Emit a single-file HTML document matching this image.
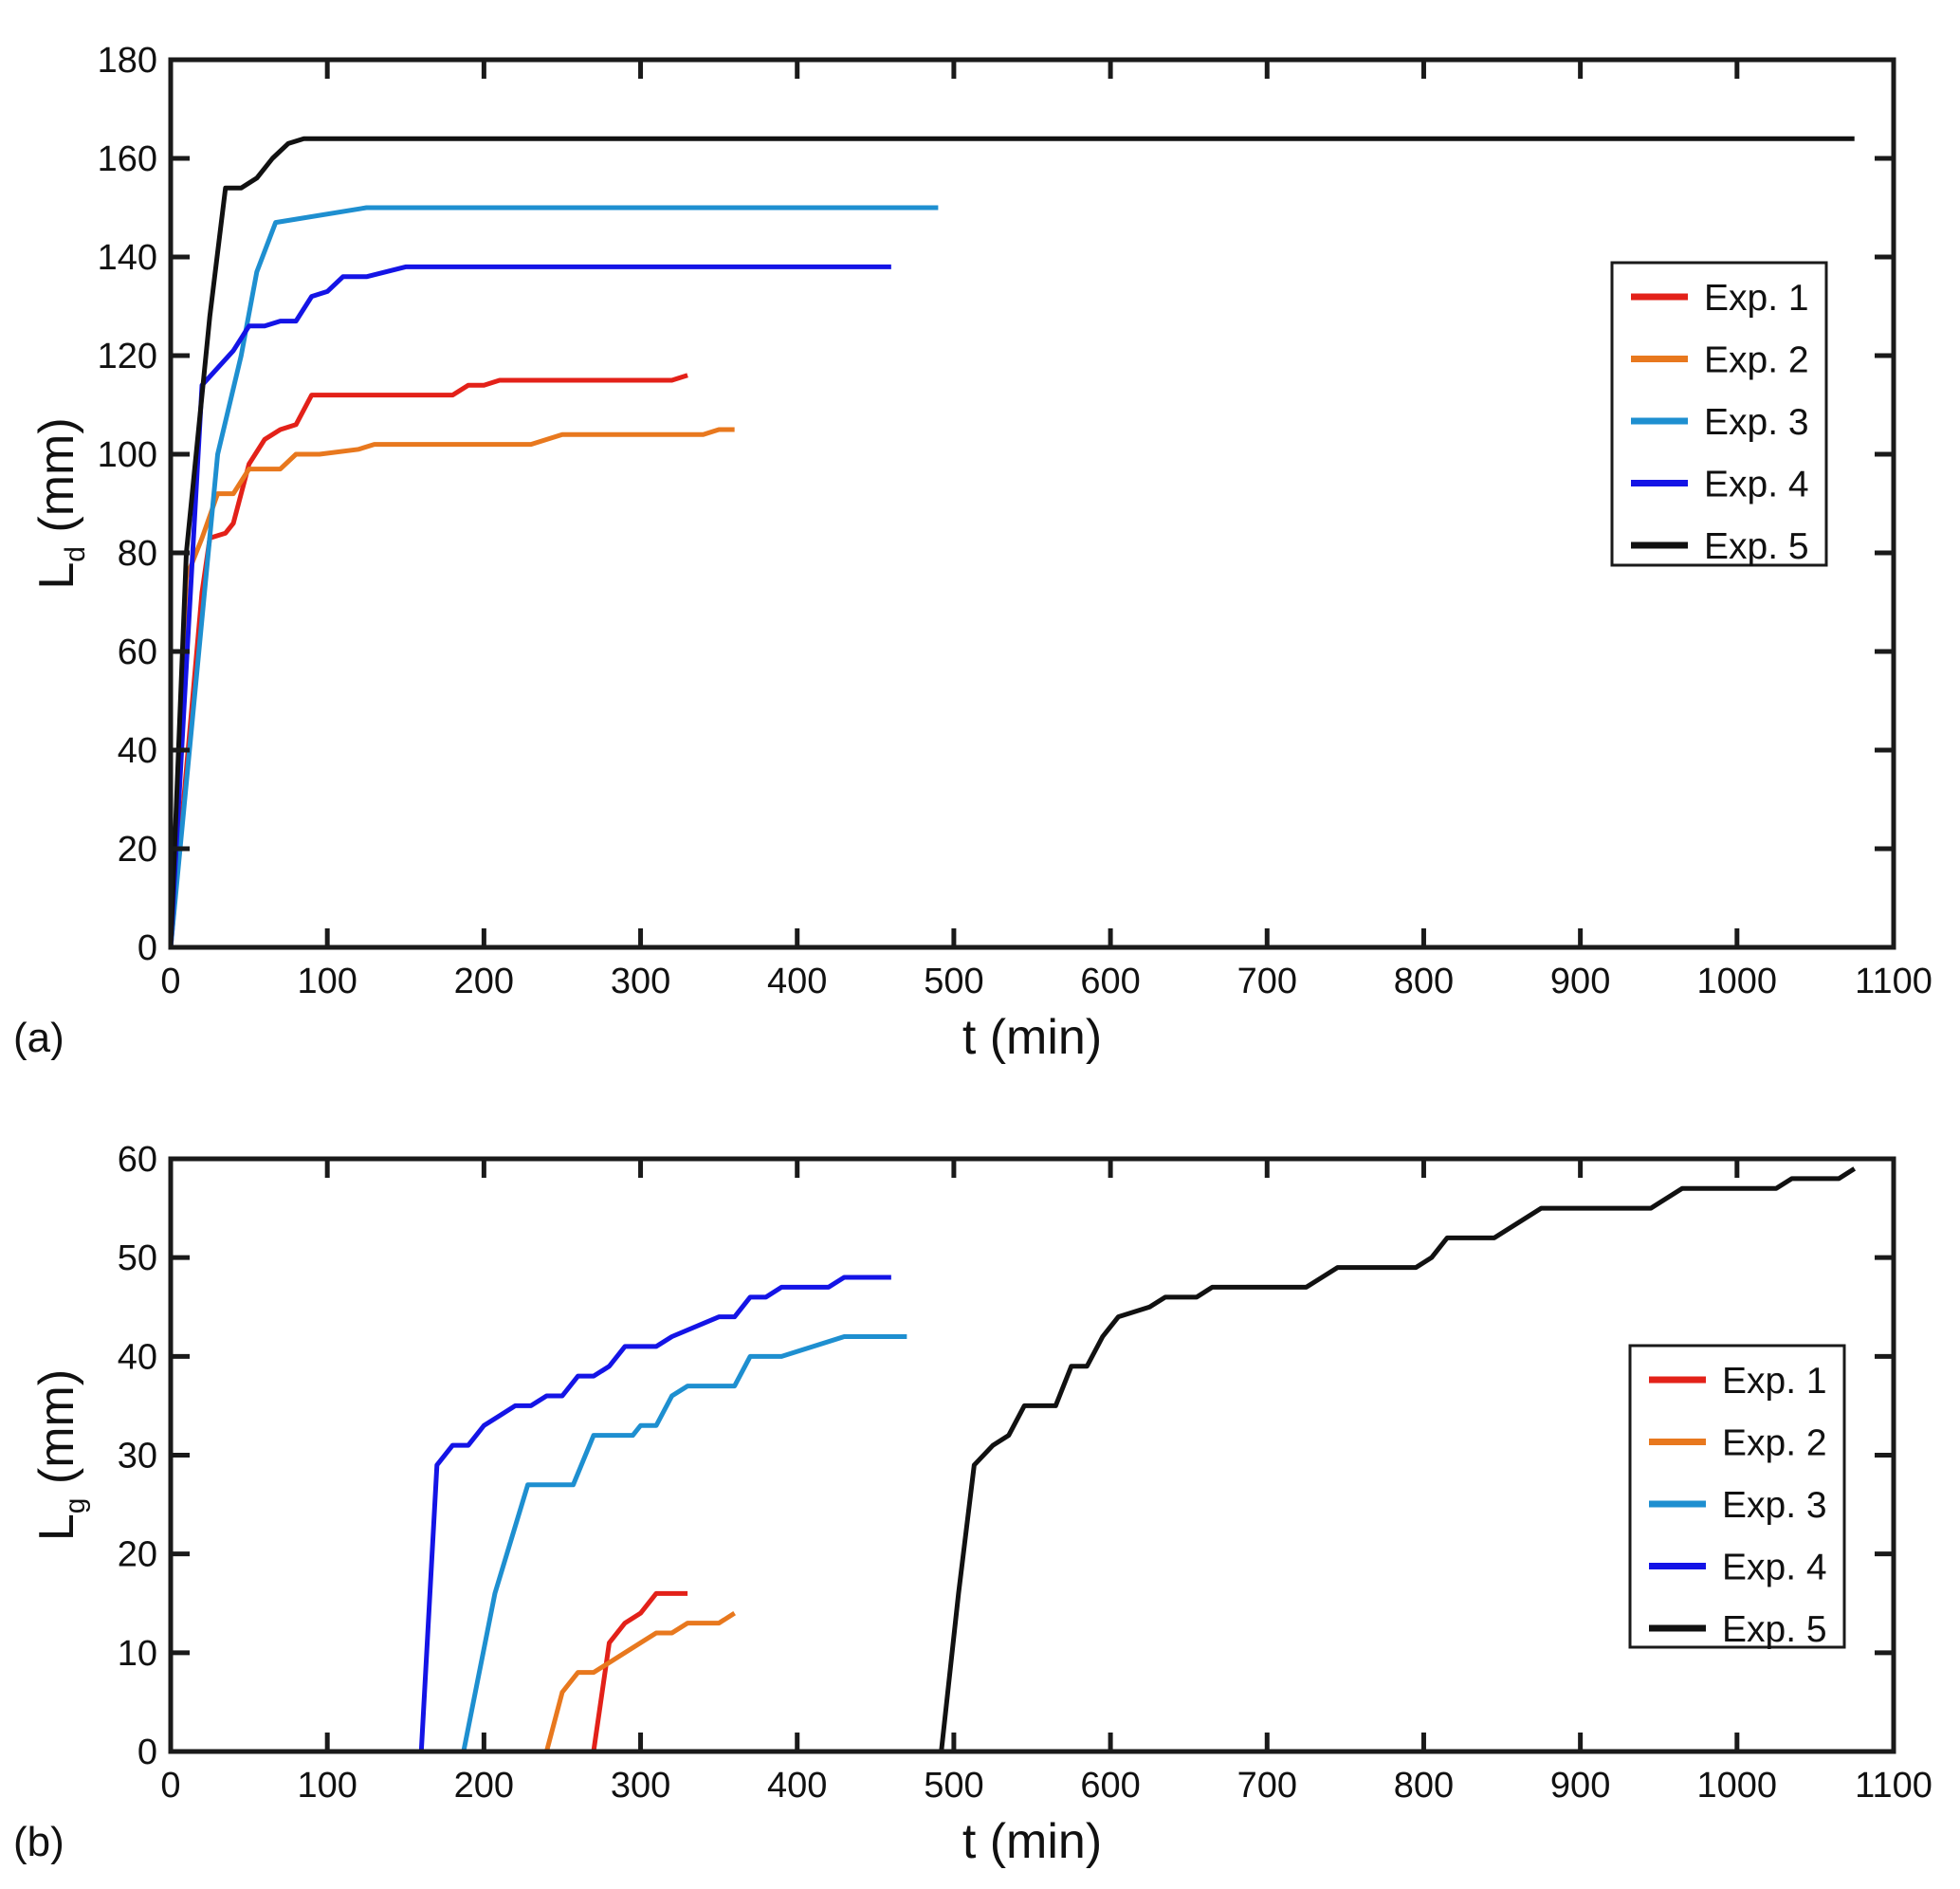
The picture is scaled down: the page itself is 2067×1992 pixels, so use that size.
<!DOCTYPE html>
<html><head><meta charset="utf-8"><style>
html,body{margin:0;padding:0;background:#fff}
svg{display:block}
text{font-family:"Liberation Sans",Arial,sans-serif;fill:#111}
</style></head><body>
<svg id="fig" width="2067" height="1992" viewBox="0 0 2067 1992"></svg>
<script>
const seriesNames=["Exp. 1","Exp. 2","Exp. 3","Exp. 4","Exp. 5"];
const seriesColors=["#e32119","#e8781e","#1e8fd0","#1414e6","#111111"];
const xTicks=[0,100,200,300,400,500,600,700,800,900,1000,1100];
const yTicksA=[0,20,40,60,80,100,120,140,160,180];
const yTicksB=[0,10,20,30,40,50,60];
const a_exp1_t=[0,20,25,35,40,50,60,70,80,90,180,190,200,210,320,330];
const a_exp1_v=[0,72,83,84,86,98,103,105,106,112,112,114,114,115,115,116];
const a_exp2_t=[0,10,20,30,40,50,70,80,95,120,130,230,250,340,350,360];
const a_exp2_v=[0,75,83,92,92,97,97,100,100,101,102,102,104,104,105,105];
const a_exp3_t=[0,30,45,55,67,125,490];
const a_exp3_v=[0,100,120,137,147,150,150];
const a_exp4_t=[0,20,40,50,60,70,80,90,100,110,125,150,460];
const a_exp4_v=[0,114,121,126,126,127,127,132,133,136,136,138,138];
const a_exp5_t=[0,10,25,35,45,55,65,75,85,1075];
const a_exp5_v=[0,80,128,154,154,156,160,163,164,164];
const b_exp1_t=[270,280,290,300,310,330];
const b_exp1_v=[0,11,13,14,16,16];
const b_exp2_t=[240,250,260,270,280,300,310,320,330,350,360];
const b_exp2_v=[0,6,8,8,9,11,12,12,13,13,14];
const b_exp3_t=[187,207,228,257,270,295,300,310,320,330,360,370,390,430,470];
const b_exp3_v=[0,16,27,27,32,32,33,33,36,37,37,40,40,42,42];
const b_exp4_t=[160,170,180,190,200,210,220,230,240,250,260,270,280,290,310,320,350,360,370,380,390,420,430,460];
const b_exp4_v=[0,29,31,31,33,34,35,35,36,36,38,38,39,41,41,42,44,44,46,46,47,47,48,48];
const b_exp5_t=[492,503,513,525,535,545,565,575,585,595,605,625,635,655,665,725,745,795,805,815,845,875,945,965,1025,1035,1065,1075];
const b_exp5_v=[0,16,29,31,32,35,35,39,39,42,44,45,46,46,47,47,49,49,50,52,52,55,55,57,57,58,58,59];

const NS="http://www.w3.org/2000/svg";
const svg=document.getElementById('fig');
function mk(tag,attrs,parent){const e=document.createElementNS(NS,tag);for(const k in attrs)e.setAttribute(k,attrs[k]);(parent||svg).appendChild(e);return e;}

function panel(id,top,bottom,ymax,yTicks,series,legend,letter,sub){
  const L=180,R=1997;
  const xs=t=>L+(R-L)*t/1100;
  const ys=v=>bottom-(bottom-top)*v/ymax;
  const g=mk('g',{});
  
  
  series.forEach((s,i)=>{
    const p=mk('polyline',{points:s[0].map((t,j)=>xs(t)+','+ys(s[1][j])).join(' '),fill:'none',stroke:seriesColors[i],'stroke-width':5,'stroke-linejoin':'round'},g);
    
    
  });
  const box=mk('rect',{x:L,y:top,width:R-L,height:bottom-top,fill:'none',stroke:'#1a1a1a','stroke-width':5},g);
  
  
  xTicks.forEach(t=>{
    const x=xs(t);
    if(t>0&&t<1100){mk('line',{x1:x,y1:bottom,x2:x,y2:bottom-20,stroke:'#1a1a1a','stroke-width':5},g);mk('line',{x1:x,y1:top,x2:x,y2:top+20,stroke:'#1a1a1a','stroke-width':5},g);}
    const tx=mk('text',{x:x,y:bottom+48,'font-size':38,'text-anchor':'middle'},g);tx.textContent=t;
    
    
  });
  yTicks.forEach(v=>{
    const y=ys(v);
    if(v>0&&v<ymax){mk('line',{x1:L,y1:y,x2:L+20,y2:y,stroke:'#1a1a1a','stroke-width':5},g);mk('line',{x1:R,y1:y,x2:R-20,y2:y,stroke:'#1a1a1a','stroke-width':5},g);}
    const tx=mk('text',{x:L-14,y:y+13,'font-size':38,'text-anchor':'end'},g);tx.textContent=v;
    
    
  });
  const xt=mk('text',{x:(L+R)/2,y:bottom+112,'font-size':52,'text-anchor':'middle'},g);xt.textContent='t (min)';
  
  
  const cy=(top+bottom)/2;
  const yt=mk('text',{x:0,y:0,'font-size':52,'text-anchor':'middle',transform:'translate(77,'+cy+') rotate(-90)'},g);
  
  
  yt.innerHTML='L<tspan font-size="30" dy="12">'+sub+'</tspan><tspan dy="-12"> (mm)</tspan>';
  const lt=mk('text',{x:14,y:bottom+110,'font-size':44},g);lt.textContent=letter;
  
  
  const [lx,ly,lw,lh]=legend;
  const lg=mk('g',{},g);
  
  
  mk('rect',{x:lx,y:ly,width:lw,height:lh,fill:'#fff',stroke:'#1a1a1a','stroke-width':3},lg);
  seriesNames.forEach((n,i)=>{
    const yy=ly+36+i*65.5;
    const e=mk('g',{},lg);
    
    
    mk('line',{x1:lx+20,y1:yy,x2:lx+80,y2:yy,stroke:seriesColors[i],'stroke-width':7},e);
    const t=mk('text',{x:lx+97,y:yy+14,'font-size':39},e);t.textContent=n;
  });
}
panel('a',63,999,180,yTicksA,[[a_exp1_t,a_exp1_v],[a_exp2_t,a_exp2_v],[a_exp3_t,a_exp3_v],[a_exp4_t,a_exp4_v],[a_exp5_t,a_exp5_v]],[1700,277,226,319],'(a)','d');
panel('b',1222,1847,60,yTicksB,[[b_exp1_t,b_exp1_v],[b_exp2_t,b_exp2_v],[b_exp3_t,b_exp3_v],[b_exp4_t,b_exp4_v],[b_exp5_t,b_exp5_v]],[1719,1419,226,318],'(b)','g');
</script>
</body></html>
